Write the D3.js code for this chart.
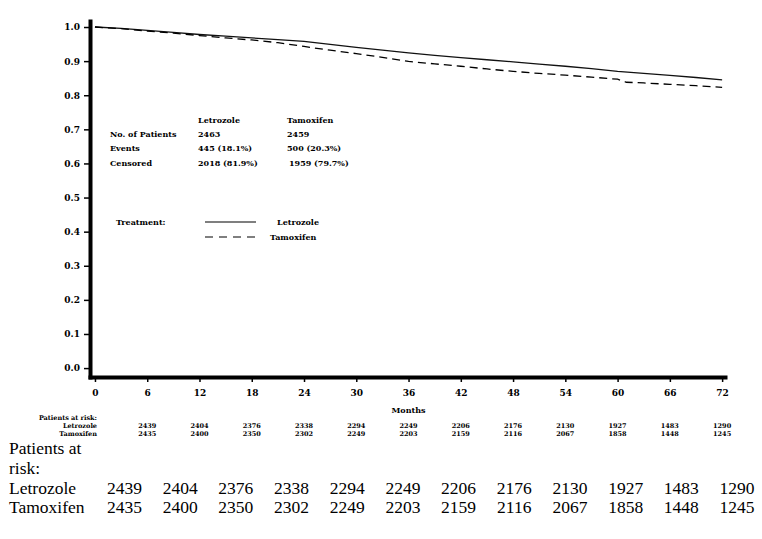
<!DOCTYPE html>
<html>
<head>
<meta charset="utf-8">
<script src="https://cdn.jsdelivr.net/npm/d3@7.9.0/dist/d3.min.js"></script>
<style>
  body { margin: 0; background: #fff; }
  svg { display: block; }
  text.times { font-family: 'Liberation Serif'; }
</style>
</head>
<body>
<svg id="chart" width="762" height="539"></svg>
<script>
// survival curves
const letMonths = [0, 3, 6, 9, 12, 15, 18, 21, 24, 27, 30, 33, 36, 39, 42, 45, 48, 51, 54, 57, 60, 63, 66, 69, 72];
const letSurv = [1.0, 0.996, 0.990, 0.984, 0.978, 0.973, 0.968, 0.963, 0.958, 0.949, 0.940, 0.932, 0.924, 0.917, 0.910, 0.904, 0.898, 0.891, 0.885, 0.878, 0.870, 0.864, 0.858, 0.852, 0.845];
const tamMonths = [0, 3, 6, 9, 12, 15, 18, 21, 24, 27, 30, 33, 36, 39, 42, 45, 48, 51, 54, 57, 60, 61, 63, 66, 69, 72];
const tamSurv = [1.0, 0.995, 0.988, 0.982, 0.975, 0.968, 0.962, 0.954, 0.943, 0.932, 0.922, 0.911, 0.899, 0.892, 0.885, 0.877, 0.870, 0.864, 0.859, 0.853, 0.847, 0.838, 0.836, 0.832, 0.828, 0.823];

const xTicks = [0, 6, 12, 18, 24, 30, 36, 42, 48, 54, 60, 66, 72];
const yTicks = [0, 0.1, 0.2, 0.3, 0.4, 0.5, 0.6, 0.7, 0.8, 0.9, 1.0];

// summary table
const statGroups = ['Letrozole', 'Tamoxifen'];
const statRows = ['No. of Patients', 'Events', 'Censored'];
const letStats = ['2463', '445 (18.1%)', '2018 (81.9%)'];
const tamStats = ['2459', '500 (20.3%)', '1959 (79.7%)'];

// patients at risk
const riskMonths = [6, 12, 18, 24, 30, 36, 42, 48, 54, 60, 66, 72];
const letRisk = [2439, 2404, 2376, 2338, 2294, 2249, 2206, 2176, 2130, 1927, 1483, 1290];
const tamRisk = [2435, 2400, 2350, 2302, 2249, 2203, 2159, 2116, 2067, 1858, 1448, 1245];

const SAS = '"DejaVu Serif", serif';

const svg = d3.select('#chart');

const x = d3.scaleLinear().domain([-0.8, 72.56]).range([88, 727]);
const y = d3.scaleLinear().domain([-0.032, 1.0235]).range([379, 19]);

function sasText(sel, size) {
  return sel.attr('font-family', SAS).attr('font-weight', 'bold')
    .attr('font-size', size).attr('fill', '#000');
}

// axes
const yAxis = svg.append('g')
  .attr('transform', 'translate(90,0)')
  .call(d3.axisLeft(y).tickValues(yTicks).tickFormat(d3.format('.1f')).tickSize(6).tickSizeOuter(0).tickPadding(4));
yAxis.select('.domain').attr('stroke-width', 4);
yAxis.selectAll('.tick line').attr('stroke-width', 1.5);
sasText(yAxis.selectAll('text'), 9);

const xAxis = svg.append('g')
  .attr('transform', 'translate(0,377)')
  .call(d3.axisBottom(x).tickValues(xTicks).tickSize(5).tickSizeOuter(0).tickPadding(8));
xAxis.select('.domain').attr('stroke-width', 4);
xAxis.selectAll('.tick line').attr('stroke-width', 1.5);
sasText(xAxis.selectAll('text'), 9);

sasText(svg.append('text'), 8)
  .attr('x', x(36)).attr('y', 413)
  .attr('text-anchor', 'middle')
  .text('Months');

// curves
const line = d3.line().x(d => x(d[0])).y(d => y(d[1]));

svg.append('path')
  .datum(d3.zip(letMonths, letSurv))
  .attr('d', line)
  .attr('fill', 'none').attr('stroke', '#111').attr('stroke-width', 1.3);

svg.append('path')
  .datum(d3.zip(tamMonths, tamSurv))
  .attr('d', line)
  .attr('fill', 'none').attr('stroke', '#000').attr('stroke-width', 1.3)
  .attr('stroke-dasharray', '8,5');

// summary table
const colX = [198, 287];
const rowY = [137, 151, 166];
statGroups.forEach((g, i) => {
  sasText(svg.append('text'), 8).attr('x', colX[i]).attr('y', 123).text(g);
});
statRows.forEach((r, i) => {
  sasText(svg.append('text'), 8).attr('x', 110).attr('y', rowY[i]).text(r);
  sasText(svg.append('text'), 8).attr('x', colX[0]).attr('y', rowY[i]).text(letStats[i]);
  sasText(svg.append('text'), 8).attr('x', colX[1] + (i === 2 ? 2 : 0)).attr('y', rowY[i]).text(tamStats[i]);
});

// treatment legend
sasText(svg.append('text'), 8).attr('x', 116).attr('y', 225).text('Treatment:');
svg.append('line').attr('x1', 205).attr('x2', 256).attr('y1', 222).attr('y2', 222)
  .attr('stroke', '#000').attr('stroke-width', 1.2);
sasText(svg.append('text'), 8).attr('x', 277).attr('y', 225).text('Letrozole');
svg.append('line').attr('x1', 205).attr('x2', 256).attr('y1', 237).attr('y2', 237)
  .attr('stroke', '#000').attr('stroke-width', 1.2).attr('stroke-dasharray', '8,6');
sasText(svg.append('text'), 8).attr('x', 270).attr('y', 240).text('Tamoxifen');

// small at-risk table under the axis
const small = svg.append('g');
sasText(small.append('text'), 6.5).attr('x', 97).attr('y', 420).attr('text-anchor', 'end').text('Patients at risk:');
sasText(small.append('text'), 6.5).attr('x', 97).attr('y', 428).attr('text-anchor', 'end').text('Letrozole');
sasText(small.append('text'), 6.5).attr('x', 97).attr('y', 436).attr('text-anchor', 'end').text('Tamoxifen');
sasText(small.selectAll('.lr').data(letRisk).join('text'), 6.5)
  .attr('x', (d, i) => x(riskMonths[i])).attr('y', 428).attr('text-anchor', 'middle').text(d => d);
sasText(small.append('g').selectAll('text').data(tamRisk).join('text'), 6.5)
  .attr('x', (d, i) => x(riskMonths[i])).attr('y', 436).attr('text-anchor', 'middle').text(d => d);

// large at-risk table
const col = d3.scalePoint().domain(riskMonths).range([124.5, 737]);
const big = svg.append('g').attr('fill', '#000');
function bigText(str, xx, yy, anchor) {
  return big.append('text').attr('class', 'times')
    .style('font-family', "'Liberation Serif'").style('font-size', '17.5px')
    .attr('x', xx).attr('y', yy).attr('text-anchor', anchor || 'start').text(str);
}
bigText('Patients at', 9, 454);
bigText('risk:', 9, 474);
bigText('Letrozole', 9, 494);
bigText('Tamoxifen', 9, 513);
letRisk.forEach((d, i) => bigText(d, col(riskMonths[i]), 494, 'middle'));
tamRisk.forEach((d, i) => bigText(d, col(riskMonths[i]), 513, 'middle'));
</script>
</body>
</html>
